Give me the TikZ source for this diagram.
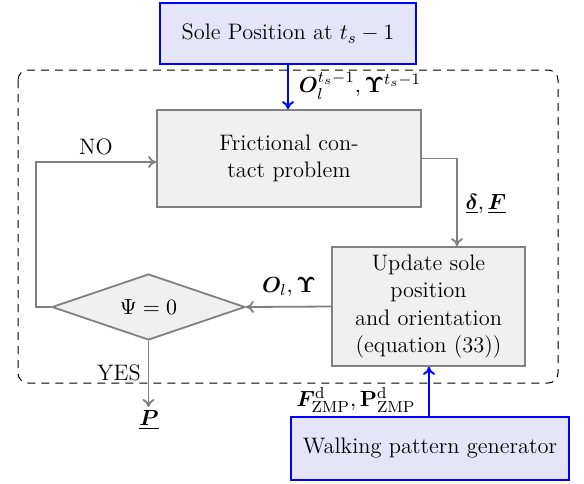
\documentclass[tikz,border=0pt]{standalone}
\usepackage{amsmath,bm}
\usetikzlibrary{shapes.geometric,arrows.meta,calc}
\definecolor{bluefill}{RGB}{229,229,250}
\definecolor{grayfill}{RGB}{240,240,240}
\definecolor{grayline}{RGB}{128,128,128}
\tikzset{
  every node/.style={font=\fontsize{11.2}{13.8}\selectfont},
  bluebox/.style={draw=blue, line width=1.2pt, fill=bluefill, inner sep=0pt, align=center},
  graybox/.style={draw=grayline, line width=0.9pt, fill=grayfill, inner sep=0pt, align=center},
  grayarrow/.style={draw=grayline, line width=0.9pt, -{To[length=4pt,width=6pt]}},
  bluearrow/.style={draw=blue, line width=1pt, -{To[length=4pt,width=6pt]}},
  lbl/.style={inner sep=1pt},
}
\begin{document}
\begin{tikzpicture}[x=0.5pt,y=-0.5pt]
\useasboundingbox (0,0) rectangle (584,483);
% dashed frame
\draw[dash pattern=on 4pt off 3pt, rounded corners=5pt, line width=0.5pt] (18,70) rectangle (558,383);
% boxes
\node[bluebox, minimum width=128pt, minimum height=30.5pt] (sole) at (288,33.5) {Sole Position at $t_s-1$};
\node[graybox, minimum width=132pt, minimum height=48.5pt] (fric) at (289,158.5) {Frictional con-\\tact problem};
\node[graybox, minimum width=96.5pt, minimum height=59.5pt] (upd) at (428.5,306.5) {Update sole\\position\\and orientation\\(equation (33))};
\node[draw=grayline, line width=0.9pt, fill=grayfill, diamond, aspect=3, minimum width=96.5pt, minimum height=33pt, inner sep=0pt] (dec) at (148.5,307) {$\Psi=0$};
\node[bluebox, minimum width=139pt, minimum height=31.5pt] (walk) at (430,448.5) {Walking pattern generator};
\coordinate (pend) at (148.5,407);
\node[lbl] (P) at (149,420) {$\underline{\bm{P}}$};
% connectors
\draw[bluearrow] (sole.south -| 288,0) -- (fric.north -| 288,0);
\node[lbl] (lab1) at (360,86) {$\bm{O}_l^{t_s-1},\bm{\Upsilon}^{t_s-1}$};
\draw[grayarrow] (fric.east) -| (upd.north -| 457,0);
\node[lbl] (lab2) at (486,204) {$\underline{\bm{\delta}},\underline{\bm{F}}$};
\draw[grayarrow] (upd.west) -- (dec.east);
\node[lbl] (lab3) at (289,287) {$\bm{O}_l,\bm{\Upsilon}$};
\draw[grayarrow] (dec.west) -- (36,307) -- (36,162) -- (fric.west |- 0,162);
\node[lbl] (no) at (96,147) {NO};
\draw[grayarrow] (dec.south) -- (pend);
\node[lbl] (yes) at (119,373) {YES};
\draw[bluearrow] (walk.north -| 429,0) -- (upd.south -| 429,0);
\node[lbl] (lab4) at (356,400) {$\bm{F}^{\mathrm{d}}_{\mathrm{ZMP}},\mathbf{P}^{\mathrm{d}}_{\mathrm{ZMP}}$};
\end{tikzpicture}
\end{document}
